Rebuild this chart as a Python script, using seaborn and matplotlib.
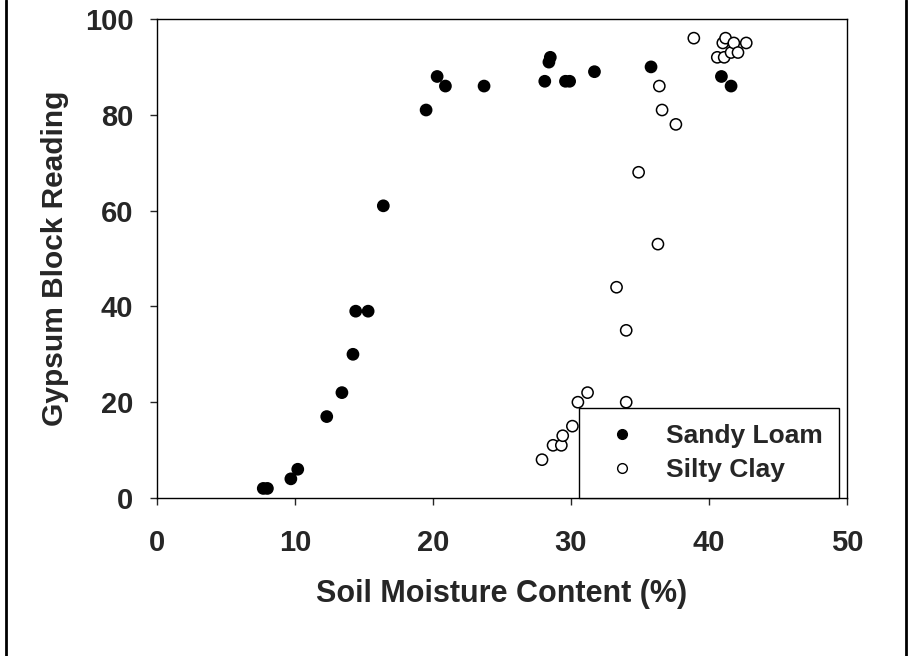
import pandas as pd
import matplotlib.pyplot as plt
import seaborn as sns
from matplotlib.lines import Line2D

# data
sandy_x = [7.7, 8.0, 9.7, 10.2, 12.3, 13.4, 14.2, 14.4, 15.3, 16.4, 19.5, 20.3, 20.9,
           23.7, 28.1, 28.4, 28.5, 29.6, 29.9, 31.7, 35.8, 40.9, 41.6]
sandy_y = [2, 2, 4, 6, 17, 22, 30, 39, 39, 61, 81, 88, 86,
           86, 87, 91, 92, 87, 87, 89, 90, 88, 86]

silty_x = [27.9, 28.7, 29.3, 29.4, 30.1, 30.5, 31.2, 34.0, 33.3, 34.0, 34.9, 36.3,
           36.4, 36.6, 37.6, 38.9, 40.6, 41.1, 41.0, 41.2, 41.6, 41.8, 42.1, 42.7]
silty_y = [8, 11, 11, 13, 15, 20, 22, 20, 44, 35, 68, 53,
           86, 81, 78, 96, 92, 92, 95, 96, 93, 95, 93, 95]

x_ticks = [0, 10, 20, 30, 40, 50]
y_ticks = [0, 20, 40, 60, 80, 100]

df = pd.concat([
    pd.DataFrame({'x': sandy_x, 'y': sandy_y, 'soil': 'Sandy Loam'}),
    pd.DataFrame({'x': silty_x, 'y': silty_y, 'soil': 'Silty Clay'}),
])

sns.set_style('ticks')
plt.rcParams['font.family'] = ['Liberation Sans', 'DejaVu Sans']

fig = plt.figure(figsize=(9.08, 6.56), dpi=100)
ax = fig.add_axes([157/908, 1 - 498/656, 690/908, 479/656])

sns.scatterplot(data=df, x='x', y='y', hue='soil',
                palette={'Sandy Loam': 'black', 'Silty Clay': 'white'},
                edgecolor='black', linewidth=1.1, s=65, ax=ax, legend=False, zorder=3)

ax.set_xlim(0, 50)
ax.set_ylim(0, 100)
ax.set_xticks(x_ticks)
ax.set_yticks(y_ticks)
ax.tick_params(direction='out', length=5, width=1, labelsize=21)
ax.tick_params(axis='x', pad=17)
ax.tick_params(axis='y', pad=12)
for lab in ax.get_xticklabels() + ax.get_yticklabels():
    lab.set_fontweight('bold')
for sp in ax.spines.values():
    sp.set_linewidth(1)
    sp.set_color('black')
ax.set_xlabel('Soil Moisture Content (%)', fontsize=22, fontweight='bold')
ax.set_ylabel('Gypsum Block Reading', fontsize=21.5, fontweight='bold')
ax.xaxis.set_label_coords(0.5, -0.17)
ax.yaxis.set_label_coords(-0.127, 0.5)

handles = [
    Line2D([], [], marker='o', ls='', markerfacecolor='black', markeredgecolor='black', markersize=7),
    Line2D([], [], marker='o', ls='', markerfacecolor='white', markeredgecolor='black', markersize=7),
]
leg = ax.legend(handles, ['Sandy Loam', 'Silty Clay'], loc='lower right',
                bbox_to_anchor=(0.9884, 0.0), fancybox=False, framealpha=1,
                prop={'weight': 'bold', 'size': 19}, handletextpad=0.7,
                borderpad=0.6, labelspacing=0.38, borderaxespad=0)
leg.get_frame().set_edgecolor('black')
leg.get_frame().set_linewidth(1)
leg.set_zorder(5)

# side borders of the figure
fig.add_artist(Line2D([6/908, 6/908], [0, 1], color='black', lw=2, transform=fig.transFigure))
fig.add_artist(Line2D([906/908, 906/908], [0, 1], color='black', lw=2, transform=fig.transFigure))

plt.savefig('out.png', dpi=100)
